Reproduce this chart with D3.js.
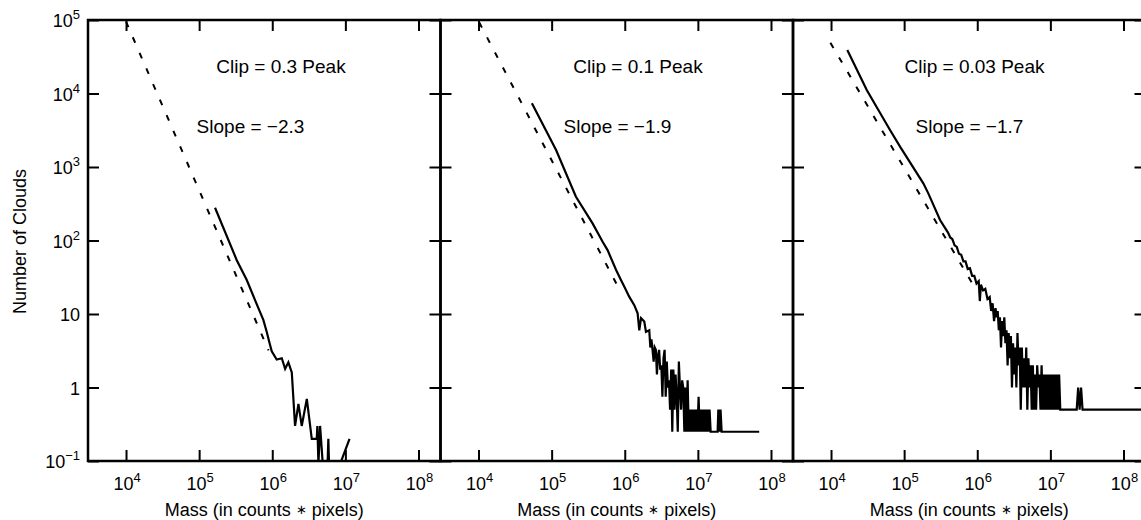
<!DOCTYPE html>
<html>
<head>
<meta charset="utf-8">
<script src="https://cdn.jsdelivr.net/npm/d3@7"></script>
<style>
  body { margin: 0; background: #fff; }
  svg { font-family: "Liberation Sans", Arial, Helvetica, sans-serif; }
</style>
</head>
<body>
<svg id="chart" width="1141" height="520"></svg>
<script>

// ticks
var xTickVals = [1e4, 1e5, 1e6, 1e7, 1e8];
var xTickSup = ["4", "5", "6", "7", "8"];
var yTickVals = [0.1, 1, 10, 100, 1e3, 1e4, 1e5];
var yTickBase = ["10", "1", "10", "10", "10", "10", "10"];
var yTickSup = ["\u22121", "", "", "2", "3", "4", "5"];

// panel annotations
var clipLabels = ["Clip = 0.3 Peak", "Clip = 0.1 Peak", "Clip = 0.03 Peak"];
var slopeLabels = ["Slope = \u22122.3", "Slope = \u22121.9", "Slope = \u22121.7"];

// power-law fits (end points)
var fitMass = [[1e4, 8.9e5], [1.02e4, 8.4e5], [9.8e3, 9.3e5]];
var fitCount = [[9.5e4, 3.2], [9.3e4, 21.9], [4.9e4, 22.6]];

// clip = 0.3
var mass1 = [1.65e5, 3.27e5, 4.48e5, 6.46e5, 7.55e5, 8.41e5, 9.2e5, 9.84e5, 1.15e6, 1.35e6,
  1.50e6, 1.66e6, 1.85e6, 2.05e6, 2.28e6, 2.53e6, 2.97e6, 3.47e6, 4.06e6, 4.14e6,
  4.28e6, 4.51e6, 4.91e6, 5.71e6, 5.85e6, 5.98e6, 8.47e6, 1.14e7];
var count1 = [279, 54, 29, 12, 8.3, 5.7, 4.0, 3.1, 2.4, 2.5,
  1.8, 2.2, 1.6, 0.3, 0.6, 0.3, 0.7, 0.2, 0.2, 0.3,
  0, 0.3, 0, 0, 0.2, 0, 0, 0.2];

// clip = 0.1
var mass2 = [5.37e4, 1.15e5, 2.15e5, 3.63e5, 4.98e5, 5.82e5, 7.59e5, 8.87e5, 9.84e5, 1.15e6,
  1.35e6, 1.50e6, 1.58e6, 1.67e6, 1.85e6, 1.95e6,
  2.163e6, 2.239e6, 2.317e6, 2.399e6, 2.483e6, 2.570e6, 2.661e6, 2.754e6, 2.851e6, 2.951e6,
  3.055e6, 3.162e6, 3.273e6, 3.388e6, 3.508e6, 3.631e6, 3.758e6, 3.890e6, 4.027e6, 4.169e6,
  4.315e6, 4.467e6, 4.624e6, 4.786e6, 4.955e6, 5.129e6, 5.309e6, 5.495e6, 5.689e6, 5.888e6,
  6.095e6, 6.310e6, 6.531e6, 6.761e6, 6.998e6, 7.244e6, 7.499e6, 7.762e6, 8.035e6, 8.318e6,
  8.610e6, 8.913e6, 9.226e6, 9.550e6, 9.886e6, 1.023e7, 1.059e7, 1.096e7, 1.135e7, 1.175e7,
  1.216e7, 1.259e7, 1.303e7, 1.349e7, 1.396e7, 1.445e7, 1.496e7,
  1.862e7, 1.905e7, 1.972e7, 2.042e7, 2.113e7, 6.9e7];
var count2 = [7360, 1700, 394, 171, 96, 74, 40, 29, 23.6, 17.2,
  13.2, 10.2, 6.0, 8.8, 7.9, 5.7,
  6.0, 3.5, 4.5, 3.25, 2.25, 3.5, 3.25, 1.5, 2.75, 3.25,
  1.75, 2.0, 0.75, 2.5, 3.25, 0.75, 2.25, 1.0, 1.25, 0.5,
  1.75, 0.25, 1.75, 0.5, 1.5, 0.75, 0.25, 2.25, 1.0, 0.5,
  1.25, 1.0, 0.25, 1.0, 0.25, 1.25, 0.25, 0.5, 0.25, 0.5,
  0.25, 0.5, 0.25, 0.5, 0.25, 0.75, 0.25, 0.5, 0.25, 0.5,
  0.25, 0.5, 0.25, 0.5, 0.25, 0.5, 0.25,
  0.25, 0.5, 0.25, 0.5, 0.25, 0.25];

// clip = 0.03
var mass3 = [1.67e4, 3.08e4, 6.41e4, 8.79e4, 1.83e5, 2.14e5, 3.10e5,
  3.98e5, 4.27e5, 4.57e5, 4.90e5, 5.25e5, 5.62e5, 6.03e5, 6.46e5, 6.92e5, 7.41e5,
  7.94e5, 8.51e5, 9.12e5, 9.77e5, 1.047e6, 1.084e6, 1.122e6, 1.202e6, 1.288e6, 1.380e6,
  1.479e6, 1.549e6, 1.622e6, 1.698e6, 1.778e6, 1.841e6, 1.905e6, 1.972e6, 2.042e6, 2.113e6,
  2.188e6, 2.265e6, 2.344e6, 2.427e6, 2.512e6, 2.600e6, 2.692e6, 2.786e6, 2.884e6, 2.985e6,
  3.090e6, 3.199e6, 3.311e6, 3.428e6, 3.548e6, 3.673e6, 3.802e6, 3.936e6, 4.074e6, 4.217e6,
  4.365e6, 4.519e6, 4.677e6, 4.842e6, 5.012e6, 5.188e6, 5.370e6, 5.559e6, 5.754e6, 5.957e6,
  6.166e6, 6.383e6, 6.607e6, 6.839e6, 7.079e6, 7.328e6, 7.586e6, 7.852e6, 8.128e6, 8.414e6,
  8.710e6, 9.016e6, 9.333e6, 9.661e6, 1.0e7, 1.035e7, 1.072e7, 1.109e7, 1.148e7, 1.189e7,
  1.230e7, 1.274e7, 1.318e7, 1.365e7,
  2.291e7, 2.399e7, 2.512e7, 2.630e7, 2.754e7, 1.738e8];
var count3 = [39000, 11150, 3190, 1890, 600, 438, 190,
  128, 110, 104, 86, 82, 66, 64, 52, 52, 41,
  42, 33, 33, 26, 28, 15, 25, 21, 22, 16,
  17, 11, 14, 8, 12, 9, 11, 6, 9, 3.5,
  8, 5, 9, 4, 6, 2, 5.5, 2.5, 5, 1.0,
  4, 1.5, 3.5, 1.0, 5.5, 2.0, 3.5, 0.5, 3.5, 1.0,
  2.5, 1.0, 3.5, 0.5, 2.5, 1.0, 2.0, 0.5, 2.0, 0.5,
  1.5, 0.5, 2.0, 1.0, 1.5, 0.5, 2.0, 0.5, 1.5, 0.5,
  1.5, 0.5, 1.5, 0.5, 1.5, 0.5, 1.5, 0.5, 1.5, 0.5,
  1.5, 0.5, 1.5, 0.5,
  0.5, 1.0, 0.5, 1.0, 0.5, 0.5];

var allMass = [mass1, mass2, mass3];
var allCount = [count1, count2, count3];


var svg = d3.select("#chart");

var margin_left = 88, margin_top = 20;
var panel_w = 352.5, panel_h = 441;
var tick_len = 11;

var x = d3.scaleLog().domain([3.02e3, 2.0e8]).range([0, panel_w]);
var y = d3.scaleLog().domain([0.1, 1e5]).range([panel_h, 0]);

var line = d3.line()
  .x(function(d) { return x(d.m); })
  .y(function(d) { return d.c > 0 ? y(d.c) : panel_h + 3; });

var draw_panel = function(k) {

  var g = svg.append("g")
    .attr("transform", "translate(" + (margin_left + k * panel_w) + "," + margin_top + ")");

  g.append("clipPath").attr("id", "clip" + k)
    .append("rect").attr("width", panel_w).attr("height", panel_h);

  var plot = g.append("g").attr("clip-path", "url(#clip" + k + ")");

  // fit line
  var fit = fitMass[k].map(function(m, i) { return { m: m, c: fitCount[k][i] }; });
  plot.append("path").datum(fit)
    .attr("d", line)
    .attr("fill", "none")
    .attr("stroke", "#000")
    .attr("stroke-width", 2)
    .attr("stroke-dasharray", "6,11");

  // measured distribution
  var pts = allMass[k].map(function(m, i) { return { m: m, c: allCount[k][i] }; });
  plot.append("path").datum(pts)
    .attr("d", line)
    .attr("fill", "none")
    .attr("stroke", "#000")
    .attr("stroke-width", 2.2)
    .attr("stroke-linejoin", "miter");

  // ticks on all four sides, pointing inward
  var axes = [
    [d3.axisBottom(x).tickValues(xTickVals), "translate(0," + panel_h + ")"],
    [d3.axisTop(x).tickValues(xTickVals), "translate(0,0)"],
    [d3.axisLeft(y).tickValues(yTickVals), "translate(0,0)"],
    [d3.axisRight(y).tickValues(yTickVals), "translate(" + panel_w + ",0)"]
  ];
  axes.forEach(function(a) {
    var ag = g.append("g").attr("transform", a[1])
      .call(a[0].tickSize(-tick_len).tickSizeOuter(0).tickFormat(""));
    ag.select(".domain").remove();
    ag.selectAll(".tick line").attr("stroke", "#000").attr("stroke-width", 2);
  });

  // frame
  g.append("rect")
    .attr("width", panel_w).attr("height", panel_h)
    .attr("fill", "none").attr("stroke", "#000").attr("stroke-width", 2.5);

  // x tick labels
  var xl = g.selectAll(".xlab").data(xTickVals).enter().append("text")
    .attr("class", "xlab")
    .attr("x", function(d) { return x(d) + 1; })
    .attr("y", panel_h + 29)
    .attr("text-anchor", "middle")
    .attr("font-size", 18);
  xl.append("tspan").text("10");
  xl.append("tspan").attr("dy", -8).attr("font-size", 13)
    .text(function(d, i) { return xTickSup[i]; });

  // x axis title
  var xt = g.append("text")
    .attr("x", panel_w / 2)
    .attr("y", panel_h + 55)
    .attr("text-anchor", "middle")
    .attr("font-size", 18);
  xt.append("tspan").text("Mass (in counts ");
  xt.append("tspan").attr("font-size", 13).attr("dy", -2).text("\u2217");
  xt.append("tspan").attr("dy", 2).text(" pixels)");

  // annotations
  var clipX = [193, 197.5, 181.5];
  var slopeX = [162.5, 177, 176.5];
  g.append("text")
    .attr("x", clipX[k]).attr("y", 53)
    .attr("text-anchor", "middle").attr("font-size", 19)
    .text(clipLabels[k]);
  g.append("text")
    .attr("x", slopeX[k]).attr("y", 113)
    .attr("text-anchor", "middle").attr("font-size", 19)
    .text(slopeLabels[k]);
};

for (var k = 0; k < 3; k++) draw_panel(k);

// y tick labels (first panel only)
var yl = svg.selectAll(".ylab").data(yTickVals).enter().append("text")
  .attr("class", "ylab")
  .attr("x", margin_left - 8)
  .attr("y", function(d) { return margin_top + y(d) + 7; })
  .attr("text-anchor", "end")
  .attr("font-size", 18);
yl.append("tspan").text(function(d, i) { return yTickBase[i]; });
yl.append("tspan").attr("dy", -8).attr("font-size", 13)
  .text(function(d, i) { return yTickSup[i]; });

svg.append("text")
  .attr("transform", "translate(26," + (margin_top + panel_h / 2 + 1) + ") rotate(-90)")
  .attr("text-anchor", "middle")
  .attr("font-size", 18)
  .text("Number of Clouds");

</script>
</body>
</html>
